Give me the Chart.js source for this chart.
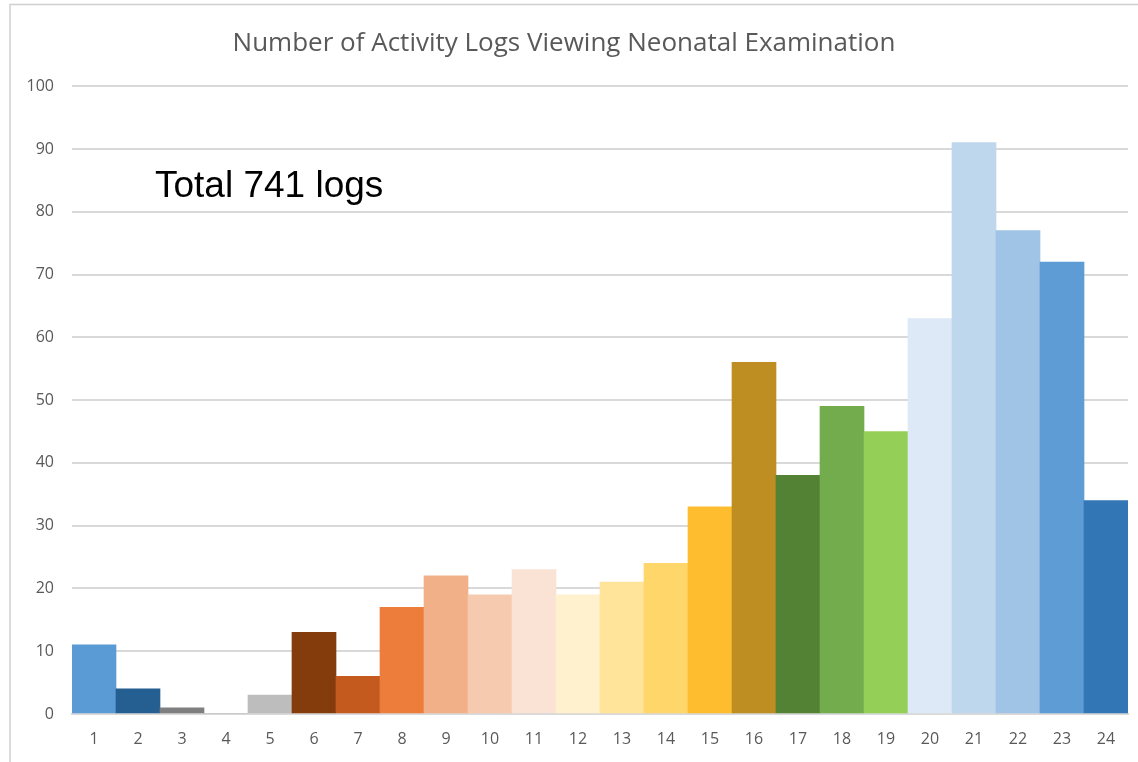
<!DOCTYPE html>
<html>
<head>
<meta charset="utf-8">
<script src="https://cdn.jsdelivr.net/npm/chart.js@4/dist/chart.umd.min.js"></script>
<style>
  html, body { margin: 0; padding: 0; background: #fff; }
  #wrap { width: 1138px; height: 762px; position: relative; }
</style>
</head>
<body>
<div id="wrap"><canvas id="c" width="1138" height="762"></canvas></div>
<script>
// Weeks 1..24 and the number of activity logs recorded in each
const categories = ['1','2','3','4','5','6','7','8','9','10','11','12','13','14','15','16','17','18','19','20','21','22','23','24'];
const logCounts = [11, 4, 1, 0, 3, 13, 6, 17, 22, 19, 23, 19, 21, 24, 33, 56, 38, 49, 45, 63, 91, 77, 72, 34];
const barColors = [
  '#5B9BD5', '#255E91', '#7F7F7F', '#A5A5A5', '#BDBDBD', '#843C0C',
  '#C55A1E', '#ED7D3A', '#F2B088', '#F6CAAE', '#FAE3D5', '#FFF0CE',
  '#FFE49A', '#FFD66A', '#FDBD2E', '#BF8E22', '#548235', '#72AC4C',
  '#94CF57', '#DDE9F6', '#BED7ED', '#9FC4E5', '#5E9CD5', '#3276B5'
];
const yTicks = [0, 10, 20, 30, 40, 50, 60, 70, 80, 90, 100];
const chartTitle = 'Number of Activity Logs Viewing Neonatal Examination';
const totalNote = 'Total 741 logs';

const frameAndNote = {
  id: 'frameAndNote',
  afterDraw(chart) {
    const ctx = chart.ctx;
    ctx.save();
    // partial outer frame
    ctx.strokeStyle = '#D0D0D0';
    ctx.lineWidth = 1.5;
    ctx.beginPath();
    ctx.moveTo(10, 762);
    ctx.lineTo(10, 4.5);
    ctx.lineTo(1138, 4.5);
    ctx.stroke();
    // total annotation
    ctx.fillStyle = '#000';
    ctx.font = '37px "Liberation Sans", Arial, sans-serif';
    ctx.textBaseline = 'alphabetic';
    ctx.fillText(totalNote, 155, 197);
    ctx.restore();
  }
};

new Chart(document.getElementById('c'), {
  type: 'bar',
  data: {
    labels: categories,
    datasets: [{
      data: logCounts,
      backgroundColor: barColors,
      borderWidth: 0,
      categoryPercentage: 1.0,
      barPercentage: 1.0
    }]
  },
  options: {
    responsive: false,
    animation: false,
    layout: { padding: { left: 0, right: 10, top: 0, bottom: 0 } },
    plugins: {
      legend: { display: false },
      tooltip: { enabled: false },
      title: {
        display: true,
        text: chartTitle,
        color: '#595959',
        font: { family: '"Open Sans", sans-serif', size: 26, weight: 'normal' },
        padding: { top: 28, bottom: 27 }
      }
    },
    scales: {
      x: {
        grid: { display: false, drawTicks: false },
        border: { display: true, color: '#D9D9D9', width: 2 },
        ticks: {
          color: '#595959',
          font: { family: '"Open Sans", sans-serif', size: 16 },
          padding: 16
        },
        afterFit(scale) { scale.height = 48; }
      },
      y: {
        min: 0,
        max: 100,
        afterBuildTicks(scale) { scale.ticks = yTicks.map(v => ({ value: v })); },
        grid: { color: '#D9D9D9', lineWidth: 2, drawTicks: false },
        border: { display: false },
        ticks: {
          color: '#595959',
          font: { family: '"Open Sans", sans-serif', size: 16 },
          padding: 18
        },
        afterFit(scale) { scale.width = 72; }
      }
    }
  },
  plugins: [frameAndNote]
});
</script>
</body>
</html>
